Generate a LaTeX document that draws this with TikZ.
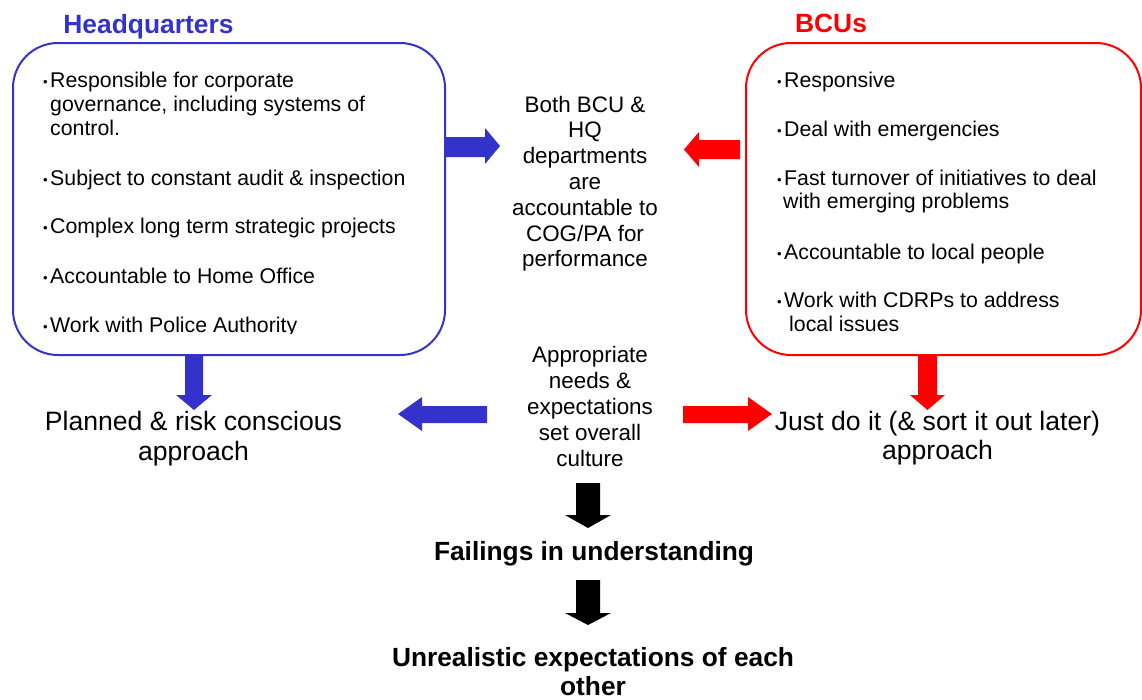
\documentclass[tikz,border=0pt]{standalone}
\usepackage{fontspec}
\setmainfont{Liberation Sans}
\definecolor{hqblue}{HTML}{3333CC}
\definecolor{bcured}{HTML}{FF0000}
\newcommand\bul{\makebox[7pt][l]{\raisebox{1pt}{\fontsize{13}{13}\selectfont\textbullet}}}
\begin{document}
\begin{tikzpicture}[x=1pt,y=-1pt,
  boxtxt/.style={font=\fontsize{21.3}{24}\selectfont, inner sep=0pt, anchor=base west},
  midtxt/.style={font=\fontsize{22.4}{26}\selectfont, inner sep=0pt, anchor=base},
  apptxt/.style={font=\fontsize{26.6}{30}\selectfont, inner sep=0pt, anchor=base},
  boldtxt/.style={font=\bfseries\fontsize{26.3}{30}\selectfont, inner sep=0pt, anchor=base},
  paneltitle/.style={font=\bfseries\fontsize{26.4}{30}\selectfont, inner sep=0pt, anchor=base},
  panel/.style={draw, line width=2pt, rounded corners=45pt, inner sep=0pt},
  blk/.style={fill=#1, draw=none}]
\useasboundingbox (0,0) rectangle (1142,699);

% block arrows
\fill[blk=hqblue] (445,137) -- (485,137) -- (485,128) -- (500,146) -- (485,164) -- (485,157) -- (445,157) -- cycle;
\fill[blk=bcured] (740,140) -- (699,140) -- (699,132) -- (684,149.5) -- (699,167) -- (699,159) -- (740,159) -- cycle;
\fill[blk=hqblue] (185,355) -- (203,355) -- (203,395) -- (212,395) -- (194,410) -- (176,395) -- (185,395) -- cycle;
\fill[blk=bcured] (918,355) -- (937,355) -- (937,395) -- (945,395) -- (927.5,410) -- (910,395) -- (918,395) -- cycle;
\fill[blk=hqblue] (487,406) -- (422,406) -- (422,397) -- (398,414) -- (422,431) -- (422,423) -- (487,423) -- cycle;
\fill[blk=bcured] (683,406) -- (748,406) -- (748,397) -- (772,414) -- (748,431) -- (748,423) -- (683,423) -- cycle;
\fill[blk=black] (576,483) -- (600,483) -- (600,515) -- (611,515) -- (588,528) -- (565,515) -- (576,515) -- cycle;
\fill[blk=black] (576,580) -- (600,580) -- (600,613) -- (611,613) -- (588,625) -- (565,613) -- (576,613) -- cycle;

% panels
\node[panel, draw=hqblue, minimum width=432pt, minimum height=312pt] (hq) at (229,199) {};
\node[panel, draw=bcured, minimum width=395pt, minimum height=312pt] (bcu) at (943.5,199) {};

% titles
\node[paneltitle, text=hqblue] (hqtitle) at (148.5,33) {Headquarters};
\node[paneltitle, text=bcured] (bcutitle) at (831,32) {BCUs};

% HQ items
\node[boxtxt] (hq1a) at (43,87) {\bul Responsible for corporate};
\node[boxtxt] (hq1b) at (50,111) {governance, including systems of};
\node[boxtxt] (hq1c) at (50,135) {control.};
\node[boxtxt] (hq2) at (43,185) {\bul Subject to constant audit \& inspection};
\node[boxtxt] (hq3) at (43,233) {\bul Complex long term strategic projects};
\node[boxtxt] (hq4) at (43,283) {\bul Accountable to Home Office};
\begin{scope}
\clip (0,0) rectangle (1142,333);
\node[boxtxt] (hq5) at (43,332) {\bul Work with Police Authority};
\end{scope}

% BCU items
\node[boxtxt] (bcu1) at (777,87) {\bul Responsive};
\node[boxtxt] (bcu2) at (777,136) {\bul Deal with emergencies};
\node[boxtxt] (bcu3a) at (777,185) {\bul Fast turnover of initiatives to deal};
\node[boxtxt] (bcu3b) at (783,208) {with emerging problems};
\node[boxtxt] (bcu4) at (777,259) {\bul Accountable to local people};
\node[boxtxt] (bcu5a) at (777,307) {\bul Work with CDRPs to address};
\node[boxtxt] (bcu5b) at (789,331) {local issues};

% middle texts
\foreach \t [count=\i] in {Both BCU \&, HQ, departments, are, accountable to, COG/PA for, performance}
  \node[midtxt] (acc\i) at (585,{112+25.8*(\i-1)}) {\t};
\foreach \t [count=\i] in {Appropriate, needs \&, expectations, set overall, culture}
  \node[midtxt] (cul\i) at (590,{362+26*(\i-1)}) {\t};

% approaches
\node[apptxt] (plan1) at (193.5,430) {Planned \& risk conscious};
\node[apptxt] (plan2) at (193.5,460) {approach};
\node[apptxt] (just1) at (937.5,430) {Just do it (\& sort it out later)};
\node[apptxt] (just2) at (937.5,459) {approach};

% outcomes
\node[boldtxt] (fail) at (594,560) {Failings in understanding};
\node[boldtxt] (unreal1) at (593,666) {Unrealistic expectations of each};
\node[boldtxt] (unreal2) at (593,695) {other};
\end{tikzpicture}
\end{document}
